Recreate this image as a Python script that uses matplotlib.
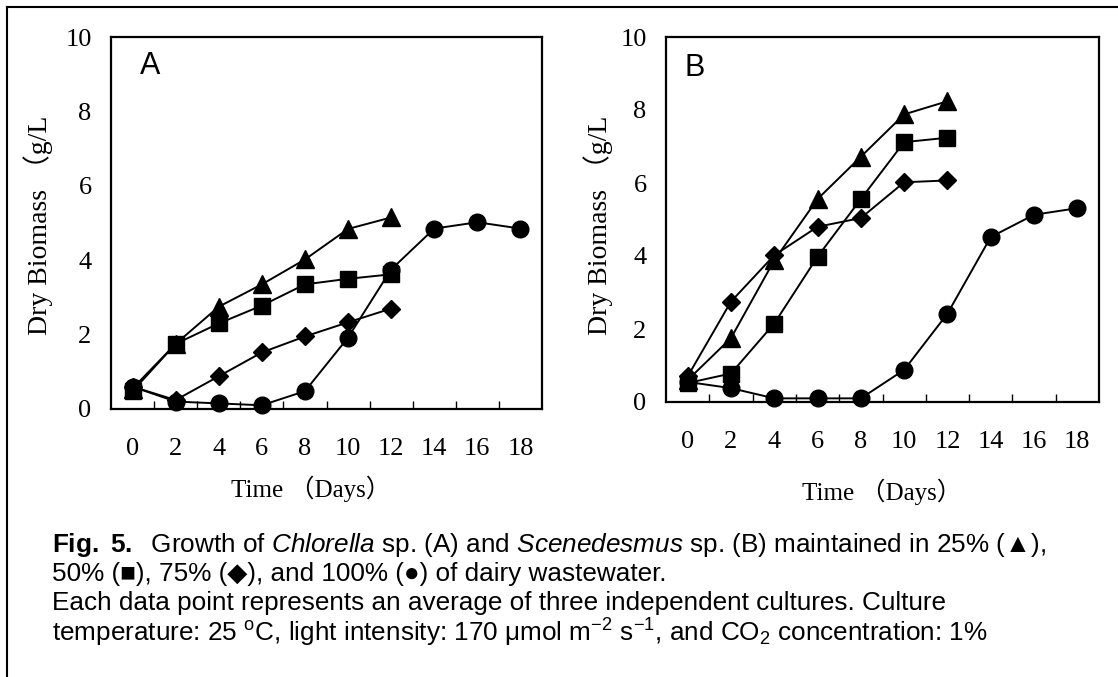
import matplotlib
matplotlib.use("Agg")
import matplotlib.pyplot as plt
from matplotlib.lines import Line2D

plt.rcParams['font.family'] = ['Liberation Serif', 'Noto Sans CJK SC', 'DejaVu Sans']
plt.rcParams['mathtext.fontset'] = 'custom'
plt.rcParams['mathtext.rm'] = 'Liberation Sans'
plt.rcParams['mathtext.it'] = 'Liberation Sans:italic'
plt.rcParams['mathtext.bf'] = 'Liberation Sans:bold'

W, H = 1118, 677

# datos
days = [0, 2, 4, 6, 8, 10, 12, 14, 16, 18]
# Chlorella sp. (A)
a_25 = [0.55, 1.75, 2.75, 3.35, 4.02, 4.84, 5.15]
a_50 = [0.48, 1.75, 2.30, 2.78, 3.35, 3.50, 3.62]
a_75 = [0.60, 0.24, 0.88, 1.52, 1.95, 2.33, 2.70]
a_100 = [0.60, 0.20, 0.15, 0.10, 0.48, 1.92, 3.75, 4.85, 5.02, 4.85]
# Scenedesmus sp. (B)
b_25 = [0.60, 1.75, 3.88, 5.56, 6.72, 7.88, 8.24]
b_50 = [0.52, 0.78, 2.15, 3.98, 5.56, 7.12, 7.24]
b_75 = [0.70, 2.75, 4.02, 4.80, 5.04, 6.02, 6.07]
b_100 = [0.55, 0.38, 0.10, 0.10, 0.10, 0.88, 2.42, 4.52, 5.13, 5.31]

markers = [('^', 13), ('s', 11), ('D', 9), ('o', 12)]


def px(x, y):
    # pixel -> coordenadas de figura
    return x / W, 1 - y / H


def graficar_panel(ax, series, letra, lx, ly):
    for vals, (mk, ms) in zip(series, markers):
        ax.plot(days[:len(vals)], vals, color='black', marker=mk, ms=ms,
                lw=1.4, clip_on=False)
    ax.set_xlim(-1, 19)
    ax.set_ylim(0, 10)
    ax.set_xticks(days)
    ax.set_xticklabels([str(d) for d in days])
    ax.set_xticks(range(1, 18, 2), minor=True)
    ax.tick_params(axis='x', which='major', length=0, pad=21, labelsize=19)
    ax.tick_params(axis='x', which='minor', direction='in', length=6, width=1)
    ax.set_yticks(range(0, 11, 2))
    ax.tick_params(axis='y', length=0, pad=14, labelsize=19)
    for sp in ax.spines.values():
        sp.set_linewidth(1.6)
    ax.text(lx, ly, letra, transform=ax.transAxes, fontsize=22,
            family='Liberation Sans', ha='center', va='center')


fig = plt.figure(figsize=(W / 100, H / 100), dpi=100)

ax_a = fig.add_axes([111 / W, 1 - 409 / H, 431 / W, 372 / H])
ax_b = fig.add_axes([666 / W, 1 - 402 / H, 433 / W, 365 / H])

graficar_panel(ax_a, [a_25, a_50, a_75, a_100], 'A', 0.09, 0.922)
graficar_panel(ax_b, [b_25, b_50, b_75, b_100], 'B', 0.065, 0.915)

# etiquetas de ejes
ylab = 'Dry Biomass （g/L'
fig.text(*px(38, 225), ylab, rotation=90, ha='center', va='center', fontsize=20)
fig.text(*px(598, 225), ylab, rotation=90, ha='center', va='center', fontsize=20)
fig.text(*px(311, 489), 'Time （Days）', ha='center', va='center', fontsize=18)
fig.text(*px(882, 492), 'Time （Days）', ha='center', va='center', fontsize=18)

# marco exterior
fig.add_artist(Line2D([7 / W, 1], [1 - 7 / H] * 2, transform=fig.transFigure,
                      color='black', lw=1.5))
fig.add_artist(Line2D([7 / W] * 2, [0, 1 - 7 / H], transform=fig.transFigure,
                      color='black', lw=1.5))

# leyenda de la figura
cap = dict(fontsize=18.8, ha='left', va='center', family=['Liberation Sans', 'DejaVu Sans'])
fig.text(*px(52, 545), r'$\mathbf{Fig.\ 5.}$  Growth of $\mathit{Chlorella}$ sp. (A) and '
         r'$\mathit{Scenedesmus}$ sp. (B) maintained in 25% (▲),', **cap)
fig.text(*px(52, 574), '50% (■), 75% (◆), and 100% (●) of dairy wastewater.', **cap)
fig.text(*px(52, 603), 'Each data point represents an average of three independent '
         'cultures. Culture', **cap)
fig.text(*px(52, 633), r'temperature: 25 $^{\rm o}$C, light intensity: 170 μmol '
         r'm$^{-2}$ s$^{-1}$, and CO$_2$ concentration: 1%', **cap)

fig.savefig('out.png', dpi=100)
